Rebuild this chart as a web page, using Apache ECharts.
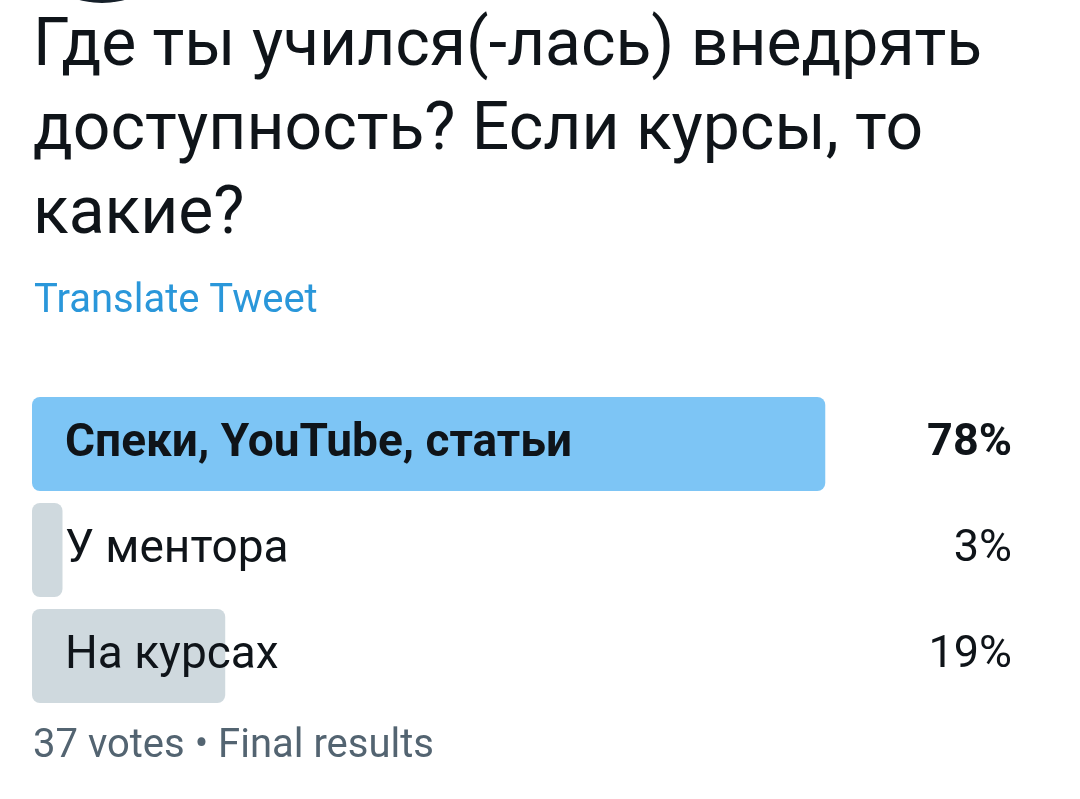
<!DOCTYPE html>
<html>
<head>
<meta charset="utf-8">
<script src="https://cdn.jsdelivr.net/npm/echarts@6/dist/echarts.min.js"></script>
<style>
html,body{margin:0;padding:0;background:#fff;}
#chart{width:1080px;height:799px;}
</style>
</head>
<body>
<div id="chart"></div>
<script>
const questionLines = ['Где ты учился(-лась) внедрять', 'доступность? Если курсы, то', 'какие?'];
const translateText = 'Translate Tweet';
const categories = ['Спеки, YouTube, статьи', 'У ментора', 'На курсах'];
const percents = [78, 3, 19];
const totalVotes = 37;
const footerText = totalVotes + ' votes • Final results';

const FONT = 'Roboto, "Noto Sans", sans-serif';
const chart = echarts.init(document.getElementById('chart'), null, {renderer: 'canvas'});
const winner = percents.indexOf(Math.max.apply(null, percents));

chart.setOption({
  backgroundColor: '#ffffff',
  animation: false,
  title: {
    text: questionLines.join('\n'),
    left: 33,
    top: 6,
    padding: 0,
    textStyle: {fontFamily: FONT, fontSize: 66, fontWeight: 'normal', color: '#0F1419', lineHeight: 84}
  },
  graphic: [
    {type: 'circle', shape: {cx: 102, cy: -83, r: 86}, style: {fill: '#16202a'}},
    {type: 'text', left: 34, top: 282, style: {text: translateText, fontFamily: FONT, fontSize: 40, fill: '#2A97DA'}},
    {type: 'text', left: 33, top: 727, style: {text: footerText, fontFamily: FONT, fontSize: 40, fill: '#536471'}}
  ],
  grid: {left: 32, top: 391, width: 1017, height: 318},
  xAxis: {type: 'value', min: 0, max: 100, show: false},
  yAxis: [
    {
      type: 'category', data: categories, inverse: true, position: 'left', z: 10,
      axisLine: {show: false}, axisTick: {show: false}, splitLine: {show: false},
      axisLabel: {
        inside: true, margin: 33,
        formatter: (v, i) => (i === winner ? '{b|' + v + '}' : '{n|' + v + '}'),
        rich: {
          b: {fontFamily: FONT, fontSize: 46, fontWeight: 'bold', color: '#0F1419'},
          n: {fontFamily: FONT, fontSize: 46, color: '#0F1419'}
        }
      }
    },
    {
      type: 'category', data: percents.map(p => p + '%'), inverse: true, position: 'right', z: 10,
      axisLine: {show: false}, axisTick: {show: false}, splitLine: {show: false},
      axisLabel: {
        inside: true, margin: 37,
        formatter: (v, i) => (i === winner ? '{b|' + v + '}' : '{n|' + v + '}'),
        rich: {
          b: {fontFamily: FONT, fontSize: 45, fontWeight: 'bold', color: '#0F1419'},
          n: {fontFamily: FONT, fontSize: 45, color: '#0F1419'}
        }
      }
    }
  ],
  series: [{
    type: 'bar',
    yAxisIndex: 0,
    barWidth: 94,
    data: percents.map((p, i) => ({
      value: p,
      itemStyle: {color: i === winner ? '#7DC5F5' : '#CFD9DE', borderRadius: 8}
    }))
  }]
});
</script>
</body>
</html>
